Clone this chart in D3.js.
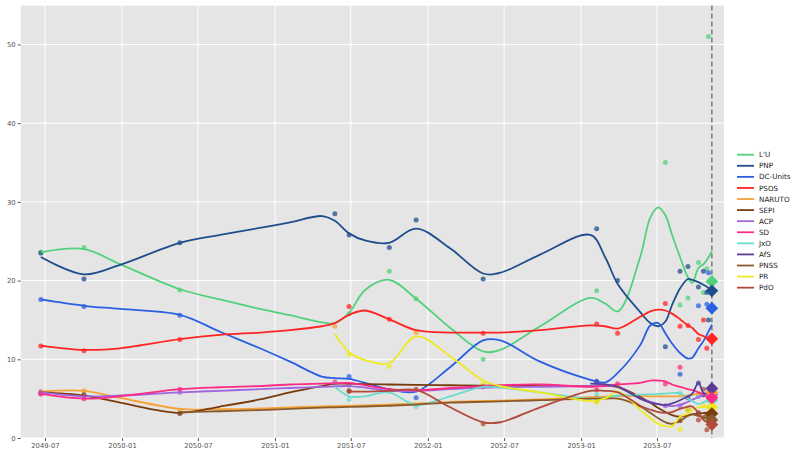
<!DOCTYPE html>
<html>
<head>
<meta charset="utf-8">
<script src="https://cdn.jsdelivr.net/npm/d3@7"></script>
<style>
  body { margin: 0; background: #fff; }
  svg text { font-family: 'DejaVu Sans', sans-serif; }
</style>
</head>
<body>
<div id="container"></div>
<script>
// poll dates (scatter points)
const pollDates = ['2049-06-21', '2049-10-02', '2050-05-19', '2051-05-24', '2051-06-27', '2051-10-01',
    '2051-12-04', '2052-05-12', '2053-02-07', '2053-03-29', '2053-07-21', '2053-08-25', '2053-09-13',
    '2053-10-08', '2053-10-20', '2053-10-28', '2053-11-01'];

const trendDates = ['2049-06-21', '2049-10-02', '2049-12-27', '2050-05-19', '2050-08-23', '2050-11-26',
    '2051-02-06', '2051-04-23', '2051-05-24', '2051-06-27', '2051-08-04', '2051-09-30', '2051-12-04',
    '2052-02-23', '2052-05-12', '2052-06-22', '2052-09-25', '2053-01-23', '2053-02-27', '2053-03-30',
    '2053-05-22', '2053-06-15', '2053-07-04', '2053-07-21', '2053-08-06', '2053-08-25', '2053-09-13',
    '2053-09-23', '2053-10-08', '2053-10-22', '2053-11-09'];

const finalDate = '2053-11-09';

const parties = ['L\'U', 'PNP', 'DC-Units', 'PSOS', 'NARUTO', 'SEPI', 'ACP', 'SD', 'JxO', 'AfS', 'PNSS', 'PR', 'PdO'];
const colors = ['#52d17c', '#1f4e8c', '#2b5fe3', '#ff2424', '#f5a236', '#7a3b0c', '#a066e0', '#ff2a85',
    '#6adccb', '#5a3d96', '#8b5a2b', '#eeea22', '#b04a3a'];

const _ = null;
const polls = [
    [23.6, 24.2, 18.8, _, 15.8, 21.2, 17.7, 10.0, 18.7, _, 35.0, 16.9, 17.8, 22.3, 18.5, 21.5, 51.0],
    [23.5, 20.2, 24.8, 28.5, 25.8, 24.2, 27.7, 20.2, 26.6, 20.0, 11.6, 21.2, 21.8, 19.2, 21.2, 18.5, 15.0],
    [17.6, 16.7, 15.6, _, 7.8, _, 5.1, _, 7.2, _, _, 8.1, _, 16.8, _, 17.0, 21.0],
    [11.7, 11.1, 12.5, _, 16.7, 15.1, _, 13.3, 14.5, 13.3, 17.1, 14.2, 14.3, 12.5, 15.0, 11.4, _],
    [5.9, 6.0, 3.5, 14.2, _, _, 13.4, _, _, _, _, _, _, 5.6, _, _, 5.4],
    [5.7, 5.5, 3.1, _, 6.0, 6.0, _, _, 5.1, _, _, 2.2, _, 3.2, _, 3.0, _],
    [5.8, 5.3, 5.8, _, 6.7, _, _, 6.5, _, _, 4.1, 4.1, _, 5.3, _, _, _],
    [5.6, 5.0, 6.2, 7.1, _, _, _, 6.6, 6.1, 6.9, 6.85, 9.0, _, _, 5.5, _, 5.2],
    [_, _, _, 6.9, 4.9, _, 4.0, _, 5.5, _, _, 5.7, _, 5.4, _, _, _],
    [_, _, _, _, _, _, _, _, 7.1, _, _, _, 5.1, 7.0, 5.5, _, _],
    [_, _, _, _, _, _, _, _, 4.8, _, _, _, 3.6, _, 2.6, _, 2.8],
    [_, _, _, _, 10.6, 9.1, _, 7.0, 4.5, 6.5, _, 1.1, 3.6, _, 4.1, _, _],
    [_, _, _, _, 5.9, 6.0, 6.2, 1.8, _, _, _, _, _, 2.3, 6.2, 1.05, _]
];

const trends = [
    [23.6, 24.0, 22.1, 18.9, 17.6, 16.4, 15.6, 14.7, 14.6, 15.9, 18.8, 20.1, 17.7, 14.0, 11.0, 11.2, 14.2, 17.8, 17.1, 16.1, 23.0, 28.0, 29.3, 28.3, 25.8, 23.0, 20.4, 19.7, 21.6, 22.2, 23.7],
    [23.0, 20.8, 22.0, 24.8, 25.8, 26.7, 27.4, 28.2, 27.6, 26.0, 25.1, 24.8, 26.6, 24.1, 20.9, 21.0, 23.3, 25.8, 23.0, 19.5, 16.0, 14.6, 14.2, 14.8, 16.9, 19.0, 20.2, 20.1, 19.8, 19.4, 18.8],
    [17.6, 16.8, 16.4, 15.65, 13.5, 11.4, 9.7, 7.8, 7.6, 7.5, 7.0, 6.2, 5.9, 9.0, 12.4, 12.4, 9.7, 7.4, 7.05, 8.3, 11.8, 14.3, 14.6, 13.3, 12.0, 10.8, 10.1, 10.2, 11.4, 12.5, 14.4],
    [11.75, 11.2, 11.4, 12.55, 13.1, 13.4, 13.7, 14.2, 14.6, 15.65, 16.2, 15.1, 13.7, 13.4, 13.4, 13.4, 13.7, 14.3, 14.2, 13.9, 15.4, 16.1, 16.3, 16.2, 15.8, 15.1, 14.3, 14.0, 13.2, 12.9, 12.5],
    [5.9, 6.0, 5.1, 3.7, 3.65, 3.75, 3.9, 4.0, 4.05, 4.1, 4.15, 4.25, 4.4, 4.6, 4.7, 4.75, 4.9, 5.2, 5.25, 5.3, 5.35, 5.3, 5.3, 5.3, 5.3, 5.3, 5.4, 5.5, 5.6, 5.6, 5.7],
    [5.8, 5.4, 4.5, 3.2, 4.0, 4.9, 5.8, 6.6, 6.9, 6.9, 6.85, 6.8, 6.75, 6.7, 6.65, 6.65, 6.6, 6.6, 6.6, 6.5, 5.2, 4.5, 3.8, 3.3, 2.9, 2.7, 2.9, 3.0, 3.1, 3.2, 3.3],
    [5.8, 5.3, 5.4, 5.8, 6.0, 6.2, 6.35, 6.5, 6.55, 6.6, 6.4, 6.0, 6.0, 6.2, 6.4, 6.45, 6.5, 6.6, 6.6, 6.5, 5.0, 4.6, 4.3, 4.1, 4.05, 4.2, 4.6, 4.85, 5.2, 5.5, 5.7],
    [5.6, 5.0, 5.3, 6.2, 6.45, 6.6, 6.8, 6.9, 6.95, 7.0, 6.7, 6.2, 6.05, 6.35, 6.6, 6.7, 6.8, 6.5, 6.6, 6.8, 7.0, 7.3, 7.3, 7.2, 6.8, 6.5, 6.2, 6.1, 5.8, 5.5, 5.1],
    [_, _, _, _, _, _, _, _, 6.5, 5.3, 5.3, 5.8, 4.2, 5.3, 6.5, 6.4, 5.8, 5.0, 5.1, 5.4, 5.5, 5.55, 5.6, 5.65, 5.7, 5.7, 5.0, 4.7, 4.3, 4.6, 5.0],
    [_, _, _, _, _, _, _, _, _, _, _, _, _, _, _, _, _, 6.9, 6.8, 6.5, 5.0, 4.5, 4.3, 4.2, 4.4, 4.8, 5.3, 5.6, 7.0, 5.6, 6.3],
    [_, _, _, 3.3, 3.4, 3.55, 3.7, 3.85, 3.9, 3.95, 4.0, 4.1, 4.25, 4.5, 4.6, 4.65, 4.8, 5.0, 5.0, 5.0, 4.0, 3.2, 2.5, 2.0, 1.8, 2.2, 2.8, 3.0, 2.8, 2.6, 2.5],
    [_, _, _, _, _, _, _, _, 13.2, 10.9, 9.9, 9.5, 12.9, 10.4, 7.3, 6.6, 5.8, 4.7, 5.0, 5.9, 3.6, 2.5, 1.8, 1.5, 1.5, 2.7, 3.1, 3.6, 3.9, 4.0, 4.0],
    [_, _, _, _, _, _, _, _, _, 5.9, 5.9, 6.0, 6.1, 3.9, 2.0, 2.0, 3.9, 6.0, 6.0, 5.8, 4.1, 3.6, 3.3, 3.2, 3.3, 3.7, 4.0, 4.0, 3.2, 2.2, 1.7]
];

// final values (diamonds at the dashed line)
const finals = [19.9, 18.7, 16.5, 12.6, 5.8, 3.1, 5.5, 5.1, 4.8, 6.3, 2.3, 3.9, 1.7];

const yTicks = [0, 10, 20, 30, 40, 50];

const width = 800;
const height = 456;
const plot = { left: 20.7, right: 724, top: 5.6, bottom: 438 };
const parse = d3.utcParse('%Y-%m-%d');

const svg = d3.select('#container').append('svg')
    .attr('width', width)
    .attr('height', height);

const xScale = d3.scaleUtc()
    .domain([Date.UTC(2049, 4, 4), Date.UTC(2053, 11, 8)])
    .range([plot.left, plot.right]);
const yScale = d3.scaleLinear()
    .domain([0, 54.94])
    .range([plot.bottom, plot.top]);

// background + grid
svg.append('rect')
    .attr('x', plot.left)
    .attr('y', plot.top)
    .attr('width', plot.right - plot.left)
    .attr('height', plot.bottom - plot.top)
    .attr('fill', '#e5e5e5');

const xTicks = xScale.ticks(d3.utcMonth.every(6));
svg.append('g').selectAll('line')
    .data(xTicks)
    .enter().append('line')
    .attr('x1', d => xScale(d)).attr('x2', d => xScale(d))
    .attr('y1', plot.top).attr('y2', plot.bottom)
    .attr('stroke', '#fff').attr('stroke-width', 1);
svg.append('g').selectAll('line')
    .data(yTicks)
    .enter().append('line')
    .attr('x1', plot.left).attr('x2', plot.right)
    .attr('y1', d => yScale(d)).attr('y2', d => yScale(d))
    .attr('stroke', '#fff').attr('stroke-width', 1);

// axes
const xAxis = d3.axisBottom(xScale)
    .tickValues(xTicks)
    .tickFormat(d3.utcFormat('%Y-%m'))
    .tickSize(3)
    .tickPadding(2.5);
const yAxis = d3.axisLeft(yScale)
    .tickValues(yTicks)
    .tickSize(3)
    .tickPadding(2);

const gx = svg.append('g')
    .attr('transform', 'translate(0,' + plot.bottom + ')')
    .call(xAxis);
const gy = svg.append('g')
    .attr('transform', 'translate(' + plot.left + ',0)')
    .call(yAxis);
[gx, gy].forEach(g => {
    g.select('.domain').remove();
    g.selectAll('.tick line').attr('stroke', '#555');
    g.selectAll('.tick text')
        .attr('fill', '#555')
        .style('font-size', '6.8px')
        .style('font-family', 'DejaVu Sans, sans-serif');
});

// dashed marker at the final date
svg.append('line')
    .attr('x1', xScale(parse(finalDate))).attr('x2', xScale(parse(finalDate)))
    .attr('y1', plot.top).attr('y2', plot.bottom)
    .attr('stroke', '#808080')
    .attr('stroke-width', 1.6)
    .attr('stroke-dasharray', '5,3');

// poll points
const points = svg.append('g');
parties.forEach((p, i) => {
    const pts = pollDates.map((d, j) => ({ date: parse(d), value: polls[i][j] }))
        .filter(d => d.value !== null);
    points.selectAll('.pt-' + i)
        .data(pts)
        .enter().append('circle')
        .attr('class', 'pt-' + i)
        .attr('r', 2.5)
        .attr('cx', d => xScale(d.date))
        .attr('cy', d => yScale(d.value))
        .attr('fill', colors[i])
        .attr('opacity', 0.75);
});

// trend lines
const line = d3.line()
    .x(d => xScale(d.date))
    .y(d => yScale(d.value))
    .curve(d3.curveCatmullRom.alpha(0.5));
const lines = svg.append('g');
parties.forEach((p, i) => {
    const pts = trendDates.map((d, j) => ({ date: parse(d), value: trends[i][j] }))
        .filter(d => d.value !== null);
    lines.append('path')
        .datum(pts)
        .attr('d', line)
        .attr('fill', 'none')
        .attr('stroke', colors[i])
        .attr('stroke-width', 1.8);
});

// diamonds
const diamond = d3.symbol().type(d3.symbolSquare).size(82);
const drawOrder = [0, 1, 2, 3, 8, 11, 6, 4, 9, 7, 5, 10, 12];
svg.append('g').selectAll('path')
    .data(drawOrder)
    .enter().append('path')
    .attr('d', diamond)
    .attr('transform', i => 'translate(' + xScale(parse(finalDate)) + ',' + yScale(finals[i]) + ') rotate(45)')
    .attr('fill', i => colors[i]);

// legend
const legend = svg.append('g')
    .attr('transform', 'translate(737,154.7)');
parties.forEach((p, i) => {
    const row = legend.append('g').attr('transform', 'translate(0,' + (i * 11.08) + ')');
    row.append('line')
        .attr('x1', 0).attr('x2', 17)
        .attr('y1', 0).attr('y2', 0)
        .attr('stroke', colors[i])
        .attr('stroke-width', 1.8);
    row.append('text')
        .attr('x', 22)
        .attr('y', 2.6)
        .attr('fill', '#222')
        .style('font-size', '7.2px')
        .text(p);
});
</script>
</body>
</html>
